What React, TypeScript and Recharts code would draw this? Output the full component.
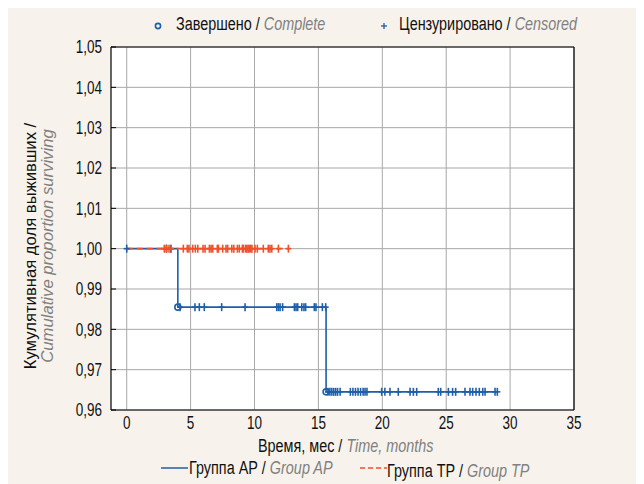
import React from 'react';
import { ComposedChart, Line, Scatter, XAxis, YAxis, CartesianGrid, ReferenceLine } from 'recharts';

const xTicks = [0, 5, 10, 15, 20, 25, 30, 35];
const yTicks = [0.96, 0.97, 0.98, 0.99, 1.0, 1.01, 1.02, 1.03, 1.04, 1.05];

// Kaplan–Meier steps
const apTimes = [0, 4.0, 15.6, 29.0];
const apSurv = [1.0, 0.9855, 0.9645, 0.9645];
const tpTimes = [0, 12.75];
const tpSurv = [1.0, 1.0];

// complete (event) marks, group AP
const apCompleteTimes = [4.0, 15.6];
const apCompleteSurv = [0.9855, 0.9645];

// censored marks
const apCensoredAt100 = [0, 3.1, 3.45];
const apCensoredAt9855 = [4.17, 5.34, 5.68, 6.07, 7.43, 9.26, 11.74, 11.87, 12.0, 12.2, 13.12, 13.25, 13.38, 13.7, 13.87, 14.0, 14.68, 14.81, 15.31, 15.57];
const apCensoredAt9645 = [15.75, 15.9, 16.05, 16.2, 16.35, 16.5, 16.7, 17.5, 17.7, 17.9, 18.1, 18.3, 18.5, 18.65, 18.8, 19.95, 20.2, 20.6, 21.25, 22.17, 22.43, 22.69, 24.38, 24.57, 25.17, 25.5, 25.74, 26.47, 26.86, 27.07, 27.33, 27.59, 27.86, 28.04, 28.82, 29.0];
const tpCensored = [2.94, 3.13, 3.31, 3.47, 4.43, 4.74, 4.87, 5.16, 5.37, 5.56, 5.97, 6.13, 6.47, 6.6, 6.73, 7.09, 7.17, 7.51, 7.77, 7.9, 8.22, 8.38, 8.66, 8.81, 9.05, 9.13, 9.3, 9.4, 9.5, 9.6, 9.7, 9.8, 10.04, 10.22, 10.69, 11.08, 11.21, 11.35, 11.87, 12.65];

const BLUE = '#1f5ea8';
const RED = '#f0502a';
const GRAY_TXT = '#808080';
const FONT = '"Liberation Sans", Arial, sans-serif';
const SX = 0.8;

const apLine = apTimes.map((t, i) => ({ x: t, y: apSurv[i] }));
const tpLine = tpTimes.map((t, i) => ({ x: t, y: tpSurv[i] }));
const apComplete = apCompleteTimes.map((t, i) => ({ x: t, y: apCompleteSurv[i] }));
const apCensored = [
  ...apCensoredAt100.map((t) => ({ x: t, y: apSurv[0] })),
  ...apCensoredAt9855.map((t) => ({ x: t, y: apSurv[1] })),
  ...apCensoredAt9645.map((t) => ({ x: t, y: apSurv[2] })),
];
const tpCens = tpCensored.map((t) => ({ x: t, y: tpSurv[0] }));

const makePlus = (color: string) => (props: any) => {
  const { cx, cy } = props;
  if (cx == null || cy == null) return <g />;
  return (
    <g>
      <line x1={cx} y1={cy - 4} x2={cx} y2={cy + 4} stroke={color} strokeWidth={1.6} />
      <line x1={cx - 3} y1={cy} x2={cx + 3} y2={cy} stroke={color} strokeWidth={1.6} />
    </g>
  );
};

const circleShape = (props: any) => {
  const { cx, cy } = props;
  if (cx == null || cy == null) return <g />;
  return <circle cx={cx} cy={cy} r={3} fill="none" stroke={BLUE} strokeWidth={1.6} />;
};

const fmt = (v: number) => v.toFixed(2).replace('.', ',');

const YTick = (props: any) => {
  const { x, y, payload } = props;
  return (
    <g>
      <line x1={x + 9} y1={y} x2={x + 14} y2={y} stroke="#000" strokeWidth={1} />
      <text transform={`translate(${x},${y}) scale(0.75,1)`} dy="0.36em" textAnchor="end" fontSize={18} fill="#111" fontFamily={FONT}>
        {fmt(payload.value)}
      </text>
    </g>
  );
};

const XTick = (props: any) => {
  const { x, y, payload } = props;
  return (
    <text transform={`translate(${x},${y}) scale(0.75,1)`} dy="0.71em" textAnchor="middle" fontSize={18} fill="#111" fontFamily={FONT}>
      {payload.value}
    </text>
  );
};

const txt: React.CSSProperties = { position: 'absolute', fontFamily: FONT, fontSize: 18, color: '#111', whiteSpace: 'nowrap' };
const it: React.CSSProperties = { fontStyle: 'italic', color: GRAY_TXT };
const sq = (origin: string): React.CSSProperties => ({ display: 'inline-block', transform: `scaleX(${SX})`, transformOrigin: origin });

export default function App() {
  return (
    <div style={{ position: 'relative', width: 636, height: 476, background: '#f7f3ec', overflow: 'hidden' }}>
      <div style={{ position: 'absolute', left: 103, top: 39, width: 463, height: 363, background: '#fff' }} />
      <div style={{ position: 'absolute', left: 0, top: 0 }}>
        <ComposedChart width={636} height={476} margin={{ top: 39, right: 70, bottom: 44, left: 43 }}>
          <CartesianGrid stroke="#a8a8a8" strokeWidth={1} horizontalValues={yTicks} verticalValues={xTicks} />
          <XAxis
            type="number"
            dataKey="x"
            domain={[-1.23, 35]}
            ticks={xTicks}
            allowDataOverflow
            height={30}
            tickSize={0}
            tickLine={false}
            tickMargin={6}
            axisLine={{ stroke: '#000', strokeWidth: 1.2 }}
            tick={<XTick />}
          />
          <YAxis
            type="number"
            dataKey="y"
            domain={[0.96, 1.05]}
            ticks={yTicks}
            allowDataOverflow
            width={60}
            tickSize={0}
            tickLine={false}
            tickMargin={9}
            axisLine={{ stroke: '#000', strokeWidth: 1.2 }}
            tick={<YTick />}
            interval={0}
          />
          <ReferenceLine y={1.05} stroke="#000" strokeWidth={1.2} />
          <ReferenceLine x={35} stroke="#000" strokeWidth={1.2} />
          <Line data={apLine} dataKey="y" type="stepAfter" stroke={BLUE} strokeWidth={1.6} dot={false} isAnimationActive={false} />
          <Scatter data={apCensored} dataKey="y" shape={makePlus(BLUE)} isAnimationActive={false} />
          <Scatter data={apComplete} dataKey="y" shape={circleShape} isAnimationActive={false} />
          <Line data={tpLine} dataKey="y" type="stepAfter" stroke={RED} strokeWidth={1.6} strokeDasharray="6 4" dot={false} isAnimationActive={false} />
          <Scatter data={tpCens} dataKey="y" shape={makePlus(RED)} isAnimationActive={false} />
        </ComposedChart>
      </div>

      {/* top legend */}
      <svg style={{ position: 'absolute', left: 145, top: 13 }} width={10} height={10}>
        <circle cx={5} cy={5} r={2.6} fill="none" stroke={BLUE} strokeWidth={1.6} />
      </svg>
      <div style={{ ...txt, left: 168, top: 6 }}>
        <span style={sq('left center')}>
          Завершено / <span style={it}>Complete</span>
        </span>
      </div>
      <svg style={{ position: 'absolute', left: 371, top: 13 }} width={10} height={10}>
        <line x1={5} y1={2} x2={5} y2={8} stroke={BLUE} strokeWidth={1.3} />
        <line x1={2} y1={5} x2={8} y2={5} stroke={BLUE} strokeWidth={1.3} />
      </svg>
      <div style={{ ...txt, left: 391, top: 6 }}>
        <span style={sq('left center')}>
          Цензурировано / <span style={it}>Censored</span>
        </span>
      </div>

      {/* y label */}
      <div
        style={{
          ...txt,
          fontSize: 17,
          left: 31,
          top: 238,
          lineHeight: '17px',
          textAlign: 'center',
          transform: 'translate(-50%, -50%) rotate(-90deg) scaleX(0.98)',
        }}
      >
        <div>Кумулятивная доля выживших /</div>
        <div style={it}>Cumulative proportion surviving</div>
      </div>

      {/* x label */}
      <div style={{ ...txt, left: 0, width: 676, top: 428, textAlign: 'center' }}>
        <span style={sq('center center')}>
          Время, мес / <span style={it}>Time, months</span>
        </span>
      </div>

      {/* bottom legend */}
      <svg style={{ position: 'absolute', left: 153, top: 455 }} width={28} height={10}>
        <line x1={0} y1={5} x2={27} y2={5} stroke={BLUE} strokeWidth={1.5} />
      </svg>
      <div style={{ ...txt, left: 181, top: 450 }}>
        <span style={sq('left center')}>
          Группа АР / <span style={it}>Group AP</span>
        </span>
      </div>
      <svg style={{ position: 'absolute', left: 352, top: 455 }} width={28} height={10}>
        <line x1={0} y1={5} x2={27} y2={5} stroke={RED} strokeWidth={1.5} strokeDasharray="5 3" />
      </svg>
      <div style={{ ...txt, left: 379, top: 453 }}>
        <span style={sq('left center')}>
          Группа ТР / <span style={it}>Group TP</span>
        </span>
      </div>
    </div>
  );
}
